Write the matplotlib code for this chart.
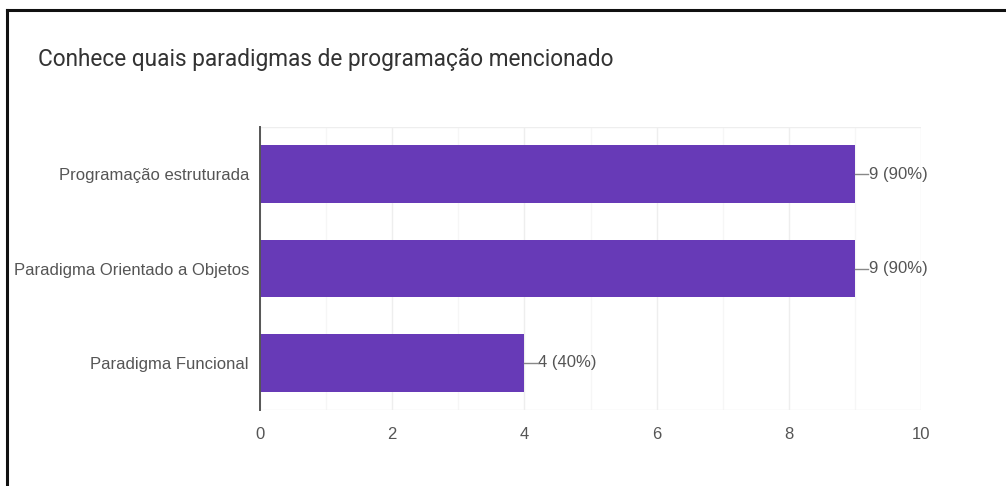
import matplotlib.pyplot as plt

# Survey answers: how many respondents know each paradigm (10 respondents)
categories = ["Programação estruturada", "Paradigma Orientado a Objetos", "Paradigma Funcional"]
counts = [9, 9, 4]
total = 10
xticks = [0, 2, 4, 6, 8, 10]

purple = "#673ab7"
grey_text = "#555555"

fig = plt.figure(figsize=(10.06, 4.86), dpi=100)

# Frame around the card (top and left edges only)
fig.add_artist(plt.Line2D([7 / 1006, 7 / 1006], [0, 1 - 10 / 486], color="#111111", lw=2.2))
fig.add_artist(plt.Line2D([7 / 1006, 1], [1 - 10 / 486, 1 - 10 / 486], color="#111111", lw=2.2))

fig.text(38 / 1006, 1 - 59 / 486, "Conhece quais paradigmas de programação mencionado",
         fontsize=16.3, family="Roboto", color="#333333", va="center", ha="left")

ax = fig.add_axes([260 / 1006, 1 - 410 / 486, 661 / 1006, 283 / 486])

y = list(range(len(categories)))
ax.barh(y, counts, height=0.61, color=purple, zorder=3)

ax.set_xlim(0, 10)
ax.set_ylim(len(categories) - 0.5, -0.5)

# faint vertical grid at every unit, a bit stronger on labelled ticks
for v in range(0, 11):
    ax.axvline(v, color="#eeeeee" if v % 2 == 0 else "#f6f6f6", lw=1, zorder=0)
ax.axhline(-0.5, color="#eeeeee", lw=1, zorder=0)
ax.axhline(len(categories) - 0.5, color="#eeeeee", lw=1, zorder=0)

for s in ["top", "right", "bottom"]:
    ax.spines[s].set_visible(False)
ax.spines["left"].set_color("#555555")
ax.spines["left"].set_linewidth(1.4)
ax.spines["left"].set_zorder(4)

ax.set_yticks(y)
ax.set_yticklabels(categories, family="Liberation Sans", fontsize=12, color=grey_text)
ax.set_xticks(xticks)
ax.set_xticklabels([str(t) for t in xticks], family="Liberation Sans", fontsize=12, color=grey_text)
ax.tick_params(axis="y", length=0, pad=8)
ax.tick_params(axis="x", length=0, pad=12)

# value labels with a short leader line
for yi, c in zip(y, counts):
    ax.plot([c, c + 0.2], [yi, yi], color="#888888", lw=1, zorder=4, clip_on=False)
    ax.text(c + 0.21, yi, f"{c} ({c * 100 // total}%)", va="center", ha="left",
            family="Liberation Sans", fontsize=12, color=grey_text)

plt.savefig("out.png", dpi=100)
